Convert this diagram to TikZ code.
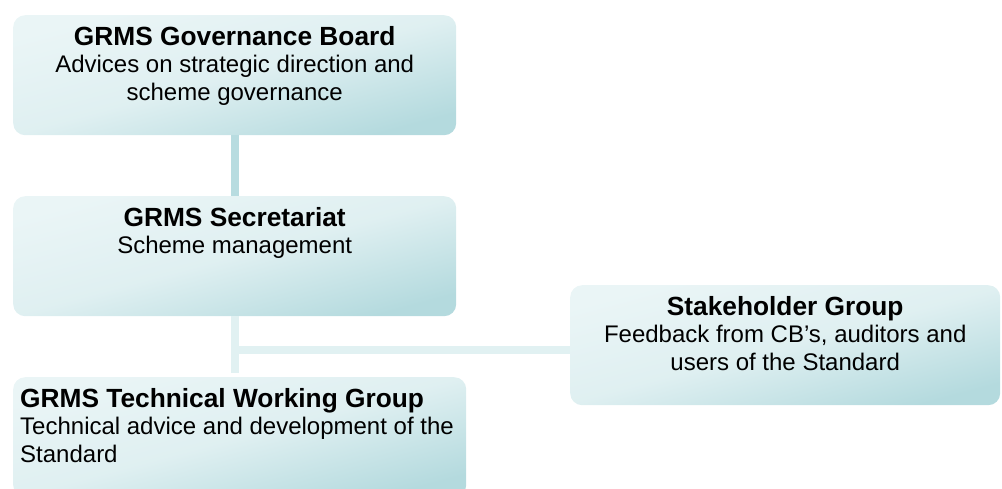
\documentclass[tikz,border=0pt]{standalone}
\usepackage{fontspec}
\setmainfont{Liberation Sans}

\definecolor{boxlight}{HTML}{EAF5F6}
\definecolor{boxdark}{HTML}{B4DADE}
\definecolor{linkdark}{HTML}{B8DCE0}
\definecolor{linklight}{HTML}{E1F1F2}

\newcommand{\boxhead}[1]{{\fontsize{26.3}{27}\selectfont\bfseries\rule{0pt}{30pt}#1\par}}
\newcommand{\boxbody}{\fontsize{24}{27.5}\selectfont}

\tikzset{
    orgbox/.style={rounded corners=12pt, left color=boxlight, right color=boxdark,
        middle color=boxlight!80!boxdark, shading angle=15,
        inner xsep=7pt, inner ysep=0pt, anchor=north west},
    link/.style={line width=8pt},
}

\begin{document}
\begin{tikzpicture}[x=1pt,y=-1pt]
    \useasboundingbox (0,0) rectangle (1002,488);
    \clip (0,0) rectangle (1002,488);

    % boxes
    \node[orgbox] (board) at (13,15) {\parbox[t][120pt][t]{429pt}{\centering
        \boxhead{GRMS Governance Board}\boxbody Advices on strategic direction and\\ scheme governance}};
    \node[orgbox] (sec) at (13,196) {\parbox[t][120pt][t]{429pt}{\centering
        \boxhead{GRMS Secretariat}\boxbody Scheme management}};
    \node[orgbox] (twg) at (13,377) {\parbox[t][120pt][t]{439pt}{\raggedright
        \boxhead{GRMS Technical Working Group}\boxbody Technical advice and development of the\\ Standard}};
    \node[orgbox] (stake) at (570,285) {\parbox[t][120pt][t]{416pt}{\centering
        \boxhead{Stakeholder Group}\boxbody Feedback from CB’s, auditors and\\ users of the Standard}};

    % links
    \coordinate (tee) at (234.5,350);
    \draw[link, linkdark] (board.south) -- (sec.north);
    \draw[link, linklight, shorten >=4pt] (sec.south) -- (sec.south |- twg.north);
    \draw[link, linklight] (tee) -- (tee -| stake.west);
\end{tikzpicture}
\end{document}
